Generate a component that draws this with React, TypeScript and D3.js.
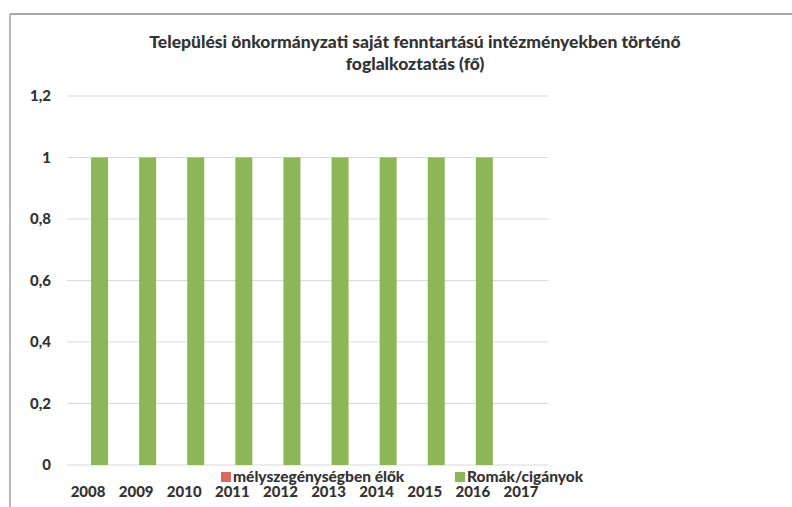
import React from "react";
import * as d3 from "d3";

const categories = ["2008", "2009", "2010", "2011", "2012", "2013", "2014", "2015", "2016", "2017"];
const seriesNames = ["mélyszegénységben élők", "Romák/cigányok"];
const melyszegenyseg = [0, 0, 0, 0, 0, 0, 0, 0, 0, 0];
const romak = [1, 1, 1, 1, 1, 1, 1, 1, 1, 0];
const yTicks = [0, 0.2, 0.4, 0.6, 0.8, 1, 1.2];
const titleLines = [
  "Települési önkormányzati saját fenntartású intézményekben történő",
  "foglalkoztatás (fő)",
];
const colors = ["#d9685f", "#8cb658"];

const W = 792;
const H = 507;
const FONT = "Lato, 'Open Sans', sans-serif";
const TEXT = "#333333";

export default function App() {
  const x = d3.scaleBand<string>().domain(categories).range([67, 548]).padding(0);
  const y = d3.scaleLinear().domain([0, 1.2]).range([465, 96]);
  const barW = 17;
  const inner = d3
    .scaleBand<string>()
    .domain(seriesNames)
    .range([x.bandwidth() / 2 - barW, x.bandwidth() / 2 + barW])
    .padding(0);
  const seriesData = [melyszegenyseg, romak];
  const fmt = (v: number) => String(v).replace(".", ",");

  return (
    <svg
      width={W}
      height={H}
      viewBox={`0 0 ${W} ${H}`}
      style={{ position: "absolute", left: 0, top: 0, background: "#fff" }}
    >
      <rect x={0} y={0} width={W} height={H} fill="#fff" />
      {/* frame */}
      <line x1={10} y1={14} x2={W} y2={14} stroke="#8a8a8a" strokeWidth={1.6} />
      <line x1={10} y1={14} x2={10} y2={H} stroke="#9a9a9a" strokeWidth={1.4} />

      {/* title */}
      {titleLines.map((t, i) => (
        <text
          key={i}
          x={415}
          y={48 + i * 22}
          textAnchor="middle"
          fontFamily={FONT}
          fontWeight={900}
          fontSize={17.5}
          fill={TEXT}
        >
          {t}
        </text>
      ))}

      {/* gridlines */}
      {yTicks.map((t) => (
        <line
          key={t}
          x1={67}
          x2={548}
          y1={y(t)}
          y2={y(t)}
          stroke="#d9d9d9"
          strokeWidth={1}
        />
      ))}

      {/* y labels */}
      {yTicks.map((t) => (
        <text
          key={"l" + t}
          x={51}
          y={y(t)}
          dy="0.35em"
          textAnchor="end"
          fontFamily={FONT}
          fontWeight={900}
          fontSize={15}
          fill={TEXT}
        >
          {fmt(t)}
        </text>
      ))}

      {/* bars */}
      {seriesData.map((vals, si) =>
        vals.map((v, ci) => {
          const bx = (x(categories[ci]) ?? 0) + (inner(seriesNames[si]) ?? 0);
          const h = y(0) - y(v);
          if (h <= 0) return null;
          return (
            <rect
              key={si + "-" + ci}
              x={bx}
              y={y(v)}
              width={inner.bandwidth()}
              height={h}
              fill={colors[si]}
            />
          );
        })
      )}

      {/* x labels */}
      {categories.map((c) => (
        <text
          key={"x" + c}
          x={(x(c) ?? 0) + x.bandwidth() / 2 - 3}
          y={497}
          textAnchor="middle"
          fontFamily={FONT}
          fontWeight={900}
          fontSize={15}
          fill={TEXT}
        >
          {c}
        </text>
      ))}

      {/* legend */}
      {seriesNames.map((s, i) => {
        const lx = i === 0 ? 221 : 455;
        return (
          <g key={"lg" + i}>
            <rect x={lx} y={472} width={10} height={10} fill={colors[i]} />
            <text
              x={lx + 12}
              y={482}
              fontFamily={FONT}
              fontWeight={900}
              fontSize={15.5}
              fill={TEXT}
            >
              {s}
            </text>
          </g>
        );
      })}
    </svg>
  );
}
